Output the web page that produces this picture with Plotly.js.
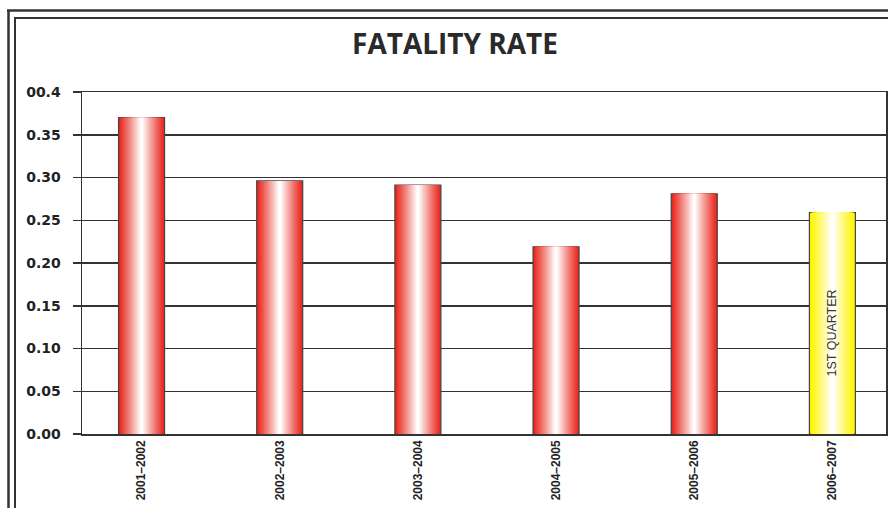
<!DOCTYPE html>
<html>
<head>
<meta charset="utf-8">
<script src="https://cdn.plot.ly/plotly-3.0.1.min.js"></script>
<style>
  html, body { margin: 0; padding: 0; background: #fff; }
  #chart { width: 888px; height: 508px; }
</style>
</head>
<body>
<div id="chart"></div>
<script>
// ---- data ----
const categories = ['2001–2002', '2002–2003', '2003–2004', '2004–2005', '2005–2006', '2006–2007'];
const fatalityRate = [0.37, 0.296, 0.291, 0.219, 0.281, 0.259];
const yTickVals = [0, 0.05, 0.10, 0.15, 0.20, 0.25, 0.30, 0.35, 0.40];
const yTickText = ['0.00', '0.05', '0.10', '0.15', '0.20', '0.25', '0.30', '0.35', '00.4'];
const chartTitle = 'FATALITY RATE';
const noteText = '1ST QUARTER';
const noteCategory = '2006–2007';
const noteY = 0.118;
const highlightIndex = 5;

// ---- styling helpers ----
const redEdge = [232, 40, 30];
const yellowEdge = [255, 244, 0];
const white = [255, 255, 255];
function mix(a, b, t) {
  return 'rgb(' + a.map((v, i) => Math.round(v + (b[i] - v) * t)).join(',') + ')';
}

const levels = 16;
const fullWidth = 0.333;
const traces = [];
for (let k = 0; k < levels; k++) {
  const t = Math.pow(k / (levels - 1), 1.1);
  const colors = categories.map((c, i) => mix(i === highlightIndex ? yellowEdge : redEdge, white, t));
  traces.push({
    type: 'bar',
    x: categories,
    y: fatalityRate,
    width: fullWidth * (1 - k / levels),
    marker: {
      color: colors,
      line: k === 0 ? { color: '#444', width: 1.2 } : { width: 0 }
    },
    hoverinfo: 'skip',
    showlegend: false
  });
}

// decorative double frame (paper coords relative to plot area 82..886 x, 92..434 y)
const L = 82, R = 886, T = 92, B = 434;
const px = v => (v - L) / (R - L);
const py = v => (B - v) / (B - T);
const frame = [
  { x0: px(8.5), x1: px(8.5), y0: py(10.5), y1: py(520), w: 2.5 },
  { x0: px(7), x1: px(900), y0: py(10.5), y1: py(10.5), w: 2.5 },
  { x0: px(15), x1: px(15), y0: py(18), y1: py(520), w: 2 },
  { x0: px(14), x1: px(900), y0: py(18), y1: py(18), w: 2 }
].map(s => ({
  type: 'line', xref: 'paper', yref: 'paper',
  x0: s.x0, x1: s.x1, y0: s.y0, y1: s.y1,
  line: { color: '#333', width: s.w }, layer: 'above'
}));

const layout = {
  width: 888,
  height: 508,
  margin: { l: L, r: 888 - R, t: T, b: 508 - B, pad: 0 },
  paper_bgcolor: '#fff',
  plot_bgcolor: '#fff',
  barmode: 'overlay',
  title: {
    text: chartTitle,
    font: { family: 'Open Sans, Liberation Sans, sans-serif', size: 28, weight: 700, color: '#2a2a2a' },
    xref: 'container', x: 455 / 888, xanchor: 'center',
    yref: 'container', y: 1 - 44 / 508, yanchor: 'middle'
  },
  xaxis: {
    type: 'category',
    range: [-0.431, 5.388],
    showgrid: false,
    showline: true,
    linecolor: '#333',
    linewidth: 1.5,
    mirror: true,
    ticks: '',
    tickangle: -90,
    tickfont: { family: 'Liberation Sans, Arial, sans-serif', size: 12, weight: 700, color: '#222' },
    zeroline: false,
    fixedrange: true
  },
  yaxis: {
    range: [0, 0.4],
    tickvals: yTickVals,
    ticktext: yTickText,
    showgrid: true,
    gridcolor: '#333',
    gridwidth: 1.5,
    showline: true,
    linecolor: '#333',
    linewidth: 1.5,
    mirror: true,
    ticks: 'outside',
    ticklen: 8,
    tickwidth: 1.5,
    tickcolor: '#333',
    ticklabelstandoff: 9,
    tickfont: { family: 'DejaVu Sans, sans-serif', size: 14, weight: 700, color: '#222' },
    zeroline: false,
    fixedrange: true
  },
  shapes: frame,
  annotations: [{
    x: noteCategory, y: noteY, xref: 'x', yref: 'y',
    text: noteText, showarrow: false, textangle: -90,
    font: { family: 'Liberation Sans, Arial, sans-serif', size: 12.5, color: '#333' }
  }]
};

Plotly.newPlot('chart', traces, layout, { displayModeBar: false, staticPlot: true });
</script>
</body>
</html>
